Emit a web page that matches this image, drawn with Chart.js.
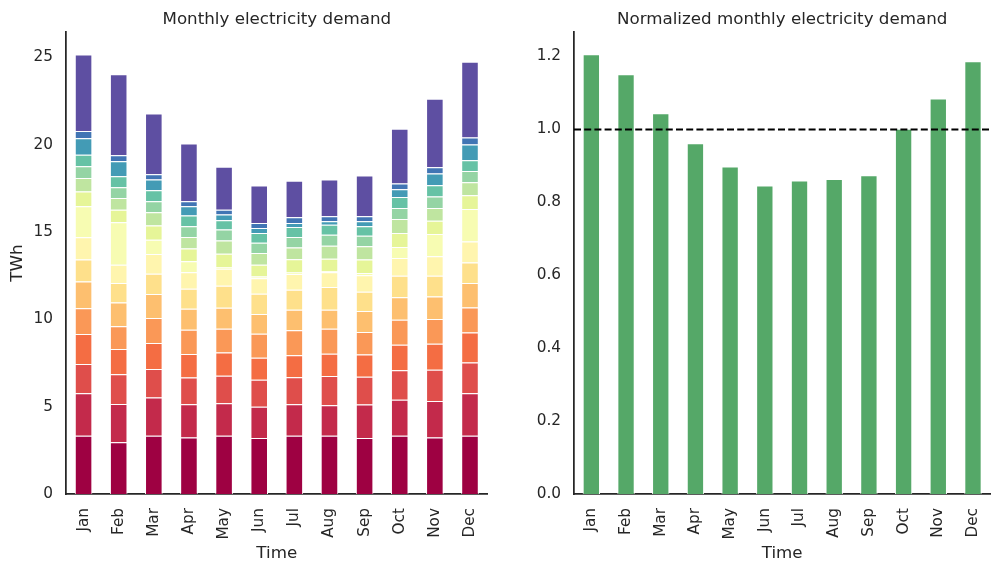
<!DOCTYPE html>
<html>
<head>
<meta charset="utf-8">
<title>Monthly electricity demand</title>
<script src="https://cdn.jsdelivr.net/npm/chart.js@4.4.0/dist/chart.umd.min.js"></script>
<style>
  html, body { margin: 0; padding: 0; background: #fff; }
  #wrap { position: relative; width: 1006px; height: 572px; overflow: hidden; }
  canvas { position: absolute; top: 0; }
</style>
</head>
<body>
<div id="wrap">
  <canvas id="demand" width="503" height="572" style="left:0"></canvas>
  <canvas id="normalized" width="503" height="572" style="left:503px"></canvas>
</div>
<script>
const months = ["Jan", "Feb", "Mar", "Apr", "May", "Jun", "Jul", "Aug", "Sep", "Oct", "Nov", "Dec"]

// stacked demand components, TWh (bottom to top)
const seg01 = [3.34, 2.96, 3.33, 3.23, 3.33, 3.21, 3.33, 3.33, 3.21, 3.33, 3.23, 3.33]
const seg02 = [2.43, 2.20, 2.19, 1.91, 1.87, 1.79, 1.81, 1.75, 1.91, 2.06, 2.10, 2.44]
const seg03 = [1.68, 1.70, 1.63, 1.53, 1.57, 1.54, 1.55, 1.67, 1.59, 1.70, 1.78, 1.76]
const seg04 = [1.71, 1.44, 1.49, 1.34, 1.33, 1.26, 1.26, 1.28, 1.28, 1.45, 1.49, 1.72]
const seg05 = [1.47, 1.30, 1.43, 1.39, 1.36, 1.37, 1.43, 1.43, 1.28, 1.44, 1.42, 1.43]
const seg06 = [1.54, 1.37, 1.38, 1.21, 1.21, 1.13, 1.17, 1.09, 1.21, 1.28, 1.29, 1.40]
const seg07 = [1.25, 1.11, 1.16, 1.14, 1.26, 1.17, 1.15, 1.30, 1.10, 1.24, 1.19, 1.18]
const seg08 = [1.28, 1.05, 1.13, 0.94, 0.97, 0.88, 0.90, 0.84, 0.94, 1.01, 1.11, 1.19]
const seg09 = [1.77, 2.43, 0.82, 0.63, 0.10, 0.10, 0.08, 0.06, 0.13, 0.63, 1.28, 1.87]
const seg10 = [0.85, 0.72, 0.82, 0.73, 0.76, 0.68, 0.76, 0.72, 0.77, 0.81, 0.76, 0.78]
const seg11 = [0.78, 0.67, 0.75, 0.67, 0.75, 0.67, 0.67, 0.75, 0.76, 0.80, 0.73, 0.75]
const seg12 = [0.67, 0.61, 0.63, 0.61, 0.63, 0.59, 0.61, 0.63, 0.60, 0.63, 0.65, 0.65]
const seg13 = [0.65, 0.63, 0.63, 0.61, 0.53, 0.56, 0.57, 0.56, 0.55, 0.63, 0.65, 0.61]
const seg14 = [0.95, 0.86, 0.61, 0.53, 0.33, 0.28, 0.23, 0.20, 0.28, 0.44, 0.67, 0.90]
const seg15 = [0.41, 0.35, 0.31, 0.29, 0.28, 0.29, 0.32, 0.29, 0.29, 0.33, 0.36, 0.40]
const seg16 = [4.39, 4.63, 3.48, 3.31, 2.45, 2.14, 2.09, 2.10, 2.33, 3.13, 3.92, 4.34]
const segments = [seg01, seg02, seg03, seg04, seg05, seg06, seg07, seg08,
                  seg09, seg10, seg11, seg12, seg13, seg14, seg15, seg16]

// demand divided by the yearly mean
const normalized = [1.206, 1.151, 1.044, 0.962, 0.898, 0.846, 0.860, 0.864, 0.874, 1.002, 1.085, 1.187]
const refLevel = 1.0

const demandTicks = [0, 5, 10, 15, 20, 25]
const normTicks = [0.0, 0.2, 0.4, 0.6, 0.8, 1.0, 1.2]

// Spectral colormap, 16 steps
const spectral = ["#9e0142", "#c32a4b", "#df4e4b", "#f46d43", "#fa9857", "#fdbf6f",
                  "#fee08b", "#fff5ae", "#f7fcb2", "#e6f598", "#bfe5a0", "#94d4a4",
                  "#66c2a5", "#439bb5", "#4175b4", "#5e4fa2"]

const ink = "#262626"
const family = "'DejaVu Sans', sans-serif"
const tickFont = { family: family, size: 15.3 }
const labelFont = { family: family, size: 16.7 }

Chart.defaults.font.family = family

const refLine = {
    id: "refLine",
    afterDatasetsDraw(chart) {
        const area = chart.chartArea
        const y = chart.scales.y.getPixelForValue(refLevel)
        const ctx = chart.ctx
        ctx.save()
        ctx.strokeStyle = "#000"
        ctx.lineWidth = 2
        ctx.setLineDash([7, 3.2])
        ctx.beginPath()
        ctx.moveTo(area.left, y)
        ctx.lineTo(area.right, y)
        ctx.stroke()
        ctx.restore()
    }
}

function xAxis(stacked) {
    return {
        stacked: stacked,
        grid: { display: false, drawTicks: false },
        border: { display: true, color: ink, width: 1.75 },
        ticks: { color: ink, font: tickFont, minRotation: 90, maxRotation: 90, padding: 14, autoSkip: false },
        title: { display: true, text: "Time", color: ink, font: labelFont, padding: { top: 0, bottom: 8 } },
        afterFit(scale) { scale.height = 78 }
    }
}

function yAxis(stacked, max, ticks, width, label, digits) {
    return {
        stacked: stacked,
        min: 0,
        max: max,
        grid: { display: false, drawTicks: false },
        border: { display: true, color: ink, width: 1.75 },
        ticks: {
            color: ink, font: tickFont, padding: 13,
            callback: (v) => v.toFixed(digits)
        },
        afterBuildTicks(scale) { scale.ticks = ticks.map(v => ({ value: v })) },
        title: { display: !!label, text: label, color: ink, font: labelFont, padding: { top: 8, bottom: 0 } },
        afterFit(scale) { scale.width = width }
    }
}

function titleOpts(text) {
    return {
        display: true, text: text, fullSize: false, color: ink,
        font: { family: family, size: 16.7, weight: "normal" },
        padding: { top: 10, bottom: 2 }
    }
}

new Chart("demand", {
    type: "bar",
    data: {
        labels: months,
        datasets: segments.map((vals, i) => ({
            label: "part " + (i + 1),
            data: vals,
            backgroundColor: spectral[i],
            borderColor: "#ffffff",
            borderWidth: 1,
            barPercentage: 0.5,
            categoryPercentage: 1.0
        }))
    },
    options: {
        responsive: false,
        animation: false,
        layout: { padding: { right: 14 } },
        plugins: {
            legend: { display: false },
            tooltip: { enabled: false },
            title: titleOpts("Monthly electricity demand")
        },
        scales: {
            x: xAxis(true),
            y: yAxis(true, 26.45, demandTicks, 66, "TWh", 0)
        }
    }
})

new Chart("normalized", {
    type: "bar",
    data: {
        labels: months,
        datasets: [{
            label: "normalized",
            data: normalized,
            backgroundColor: "#55a868",
            borderColor: "#ffffff",
            borderWidth: 1,
            barPercentage: 0.5,
            categoryPercentage: 1.0
        }]
    },
    options: {
        responsive: false,
        animation: false,
        layout: { padding: { right: 9 } },
        plugins: {
            legend: { display: false },
            tooltip: { enabled: false },
            title: titleOpts("Normalized monthly electricity demand")
        },
        scales: {
            x: xAxis(false),
            y: yAxis(false, 1.267, normTicks, 71, "", 1)
        }
    },
    plugins: [refLine]
})
</script>
</body>
</html>
